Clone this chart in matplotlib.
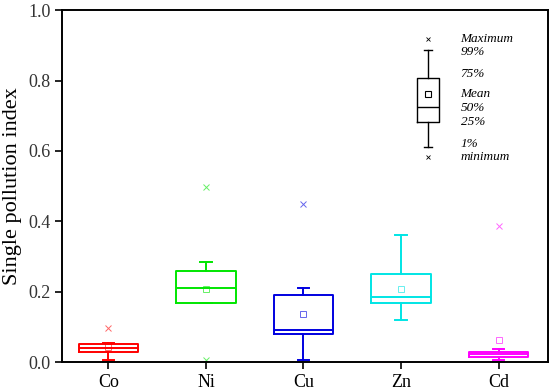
import matplotlib
matplotlib.use("Agg")
from matplotlib import pyplot as plt

metals = ["Co", "Ni", "Cu", "Zn", "Cd"]
colors = ["#ff0000", "#00e600", "#0000e0", "#00e5e5", "#ff00ff"]
q1 = [0.028, 0.167, 0.080, 0.167, 0.014]
median = [0.041, 0.210, 0.090, 0.184, 0.022]
q3 = [0.051, 0.258, 0.191, 0.251, 0.028]
whis_lo = [0.006, 0.167, 0.006, 0.120, 0.006]
whis_hi = [0.054, 0.285, 0.211, 0.361, 0.036]
means = [0.043, 0.208, 0.136, 0.207, 0.062]
extremes = [[0.097], [0.497, 0.006], [0.448], [], [0.387]]

# key box drawn in the upper right corner
key_stats = {"q1": 0.681, "med": 0.725, "q3": 0.808, "whislo": 0.610,
             "whishi": 0.888, "mean": 0.761, "fliers": [0.918, 0.583]}
key_labels = [("Maximum", 0.918), ("99%", 0.881), ("75%", 0.818),
              ("Mean", 0.761), ("50%", 0.722), ("25%", 0.682),
              ("1%", 0.619), ("minimum", 0.582)]

plt.rcParams["font.family"] = ["Liberation Serif", "DejaVu Serif"]

fig = plt.figure(figsize=(5.5, 3.91), dpi=100)
ax = fig.add_axes([0.113, 0.074, 0.883, 0.9])

positions = list(range(1, len(metals) + 1))
for i, pos in enumerate(positions):
    stats = [{"q1": q1[i], "med": median[i], "q3": q3[i], "whislo": whis_lo[i],
              "whishi": whis_hi[i], "mean": means[i], "fliers": extremes[i]}]
    c = colors[i]
    ax.bxp(stats, positions=[pos], widths=0.61, showmeans=True,
           boxprops={"color": c, "linewidth": 1.4},
           medianprops={"color": c, "linewidth": 1.4},
           whiskerprops={"color": c, "linewidth": 1.4},
           capprops={"color": c, "linewidth": 1.4},
           capwidths=0.12,
           meanprops={"marker": "s", "markersize": 4, "markerfacecolor": "none",
                      "markeredgecolor": c, "markeredgewidth": 0.7, "alpha": 0.6},
           flierprops={"marker": "x", "markersize": 4, "markeredgecolor": c,
                       "markeredgewidth": 0.7, "alpha": 0.6})

key_x = 4.276
ax.bxp([key_stats], positions=[key_x], widths=0.23, showmeans=True,
       boxprops={"color": "black", "linewidth": 1.0},
       medianprops={"color": "black", "linewidth": 1.0},
       whiskerprops={"color": "black", "linewidth": 1.0},
       capprops={"color": "black", "linewidth": 1.0},
       capwidths=0.085,
       meanprops={"marker": "s", "markersize": 4, "markerfacecolor": "none",
                  "markeredgecolor": "black", "markeredgewidth": 0.8},
       flierprops={"marker": "x", "markersize": 3, "markeredgecolor": "black",
                   "markeredgewidth": 0.6})
for text, yv in key_labels:
    ax.text(key_x + 0.335, yv, text, fontsize=9.5, style="italic",
            va="center", ha="left")

ax.set_xlim(0.526, 5.505)
ax.set_ylim(0, 1.0)
ax.set_xticks(positions)
ax.set_xticklabels(metals, fontsize=13)
ax.set_yticks([0.0, 0.2, 0.4, 0.6, 0.8, 1.0])
ax.set_yticklabels([f"{v:.1f}" for v in [0.0, 0.2, 0.4, 0.6, 0.8, 1.0]],
                   fontsize=13, color="#333333")
ax.tick_params(direction="out", length=5, width=1.2)
ax.set_ylabel("Single pollution index", fontsize=16, labelpad=4)
for sp in ax.spines.values():
    sp.set_linewidth(1.4)

fig.savefig("out.png", dpi=100)
